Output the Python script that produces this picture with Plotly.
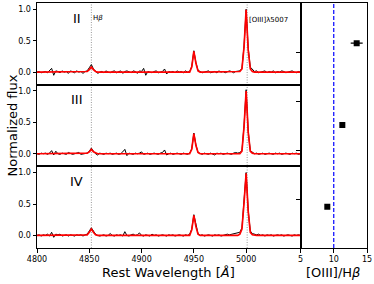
import plotly.graph_objects as go

# ---------------- data ----------------
WAVE = list(range(4800, 5053, 2))  # rest wavelength grid [A]

FLUX_II = [
    0.00, 0.01, -0.01, 0.00, 0.01, -0.01, 0.02, 0.06, -0.05, 0.02,
    0.01, -0.01, 0.02, 0.00, 0.01, -0.02, 0.02, 0.01, -0.01, 0.02,
    0.00, 0.01, -0.02, 0.01, 0.02, 0.07, 0.12, 0.05, 0.01, -0.02,
    0.00, 0.01, -0.01, 0.02, 0.00, -0.01, 0.01, 0.02, -0.01, 0.00,
    0.02, -0.02, 0.01, 0.02, 0.00, -0.01, 0.02, 0.01, -0.02, 0.02,
    0.01, 0.06, -0.05, 0.01, 0.00, -0.01, 0.01, 0.02, -0.01, 0.00,
    0.01, 0.05, -0.03, 0.01, 0.00, 0.01, -0.01, 0.02, 0.00, 0.01,
    -0.01, 0.02, 0.00, 0.01, 0.09, 0.34, 0.15, 0.03, 0.01, -0.01,
    0.00, 0.01, 0.02, -0.01, 0.00, 0.01, -0.01, 0.02, 0.00, 0.01,
    -0.01, 0.00, 0.02, 0.01, -0.01, 0.01, 0.02, 0.02, 0.06, 0.42,
    1.00, 0.38, 0.08, 0.04, 0.01, 0.02, -0.01, 0.00, 0.01, 0.02,
    -0.01, 0.01, 0.00, 0.02, -0.01, 0.01, 0.00, 0.02, 0.01, -0.01,
    0.00, 0.01, 0.02, 0.00, -0.01, 0.01, 0.00,
]
FLUX_III = [
    0.00, -0.01, 0.01, 0.00, 0.01, -0.01, 0.01, 0.05, -0.02, 0.04,
    0.00, -0.01, 0.01, 0.00, -0.01, 0.02, 0.01, -0.01, 0.00, 0.01,
    0.02, -0.01, 0.00, 0.01, 0.01, 0.04, 0.09, 0.04, 0.00, -0.02,
    0.01, 0.00, -0.01, 0.01, 0.00, 0.01, -0.01, 0.00, 0.01, -0.01,
    0.00, 0.03, 0.07, -0.03, 0.01, 0.00, -0.01, 0.01, 0.00, 0.01,
    0.03, -0.01, 0.00, 0.01, -0.01, 0.00, 0.01, 0.00, -0.01, 0.01,
    0.02, 0.06, -0.02, 0.00, 0.01, -0.01, 0.00, 0.01, 0.00, -0.01,
    0.01, 0.00, -0.01, 0.01, 0.08, 0.33, 0.14, 0.02, 0.00, -0.01,
    0.01, 0.00, -0.01, 0.01, 0.00, -0.02, 0.01, 0.00, 0.01, -0.01,
    0.00, 0.01, 0.00, -0.01, 0.01, 0.02, 0.01, 0.02, 0.05, 0.45,
    1.02, 0.36, 0.05, 0.02, 0.00, 0.01, -0.01, 0.00, 0.01, -0.01,
    0.00, 0.01, 0.00, -0.01, 0.01, 0.00, 0.01, -0.01, 0.00, 0.01,
    0.00, -0.01, 0.01, 0.00, 0.01, -0.01, 0.00,
]
FLUX_IV = [
    0.00, 0.01, -0.01, 0.01, 0.00, 0.02, -0.01, 0.05, -0.03, 0.02,
    0.01, 0.02, -0.01, 0.00, 0.01, -0.01, 0.01, 0.00, -0.01, 0.01,
    0.00, 0.01, -0.01, 0.01, 0.02, 0.07, 0.12, 0.07, 0.02, 0.00,
    -0.01, 0.00, 0.01, -0.01, 0.00, 0.03, 0.00, -0.01, 0.01, 0.00,
    0.01, -0.01, 0.06, 0.00, -0.01, 0.01, 0.02, 0.00, 0.01, 0.04,
    0.00, -0.01, 0.01, 0.00, -0.01, 0.02, 0.00, 0.01, -0.01, 0.00,
    0.01, 0.00, -0.01, 0.01, 0.00, 0.01, -0.01, 0.00, 0.01, 0.00,
    -0.01, 0.01, 0.00, 0.02, 0.10, 0.33, 0.15, 0.03, 0.00, 0.01,
    -0.01, 0.00, 0.01, 0.00, -0.01, 0.01, 0.00, 0.01, -0.01, 0.00,
    0.01, 0.02, 0.01, 0.02, 0.03, 0.03, 0.04, 0.05, 0.12, 0.55,
    1.00, 0.40, 0.07, 0.03, 0.02, 0.01, 0.02, 0.00, 0.01, -0.01,
    0.01, 0.00, 0.01, -0.01, 0.00, 0.01, 0.00, 0.01, -0.01, 0.00,
    0.01, 0.00, -0.01, 0.01, 0.00, 0.01, 0.00,
]

# model fits (values read at the grid points near each line; zero elsewhere)
FIT_II_POINTS = {4848: 0.01, 4850: 0.04, 4852: 0.08, 4854: 0.04, 4856: 0.01,
                 4948: 0.08, 4950: 0.33, 4952: 0.14, 4954: 0.02,
                 4994: 0.01, 4996: 0.05, 4998: 0.40, 5000: 0.99, 5002: 0.35, 5004: 0.05, 5006: 0.01}
FIT_III_POINTS = {4848: 0.01, 4850: 0.03, 4852: 0.07, 4854: 0.03, 4856: 0.01,
                  4948: 0.07, 4950: 0.32, 4952: 0.13, 4954: 0.02,
                  4996: 0.04, 4998: 0.43, 5000: 1.00, 5002: 0.34, 5004: 0.04, 5006: 0.01}
FIT_IV_POINTS = {4848: 0.01, 4850: 0.05, 4852: 0.10, 4854: 0.05, 4856: 0.01,
                 4948: 0.09, 4950: 0.32, 4952: 0.14, 4954: 0.02,
                 4994: 0.02, 4996: 0.10, 4998: 0.52, 5000: 0.99, 5002: 0.38, 5004: 0.05, 5006: 0.01}

PANEL_LABELS = ["II", "III", "IV"]
LINE_WAVES = [4852, 5001]

RATIO = [13.45, 11.29, 9.03]
RATIO_ERR = [0.9, 0.0, 0.0]
RATIO_Y = [4.18, 2.51, 0.84]

X_TICKS = [4800, 4850, 4900, 4950, 5000]
Y_TICKS = [0.0, 0.5, 1.0]
R_TICKS = [5, 10, 15]

# ---------------- figure ----------------
W, H = 374, 284
FONT = "DejaVu Sans"

def px_x(p):
    return p / W

def px_y(p):
    return 1 - p / H

left0, left1 = px_x(37), px_x(300.5)
right0, right1 = px_x(300.5), px_x(367)
tops = [3, 84.7, 166.3]
bots = [84.7, 166.3, 248]

fluxes = [FLUX_II, FLUX_III, FLUX_IV]
fits = [FIT_II_POINTS, FIT_III_POINTS, FIT_IV_POINTS]

fig = go.Figure()
layout = dict(width=W, height=H, margin=dict(l=0, r=0, t=0, b=0, pad=0, autoexpand=False),
              template="none",
              paper_bgcolor="white", plot_bgcolor="white", showlegend=False,
              font=dict(family=FONT, size=8, color="black"))

annotations = []
shapes = []
for k in range(3):
    xa = "x" if k == 0 else f"x{k+1}"
    ya = "y" if k == 0 else f"y{k+1}"
    fit = [fits[k].get(w, 0.0) for w in WAVE]
    fig.add_trace(go.Scatter(x=WAVE, y=fluxes[k], mode="lines",
                             line=dict(color="black", width=1), xaxis=xa, yaxis=ya))
    fig.add_trace(go.Scatter(x=WAVE, y=fit, mode="lines",
                             line=dict(color="#ff0000", width=1.7), xaxis=xa, yaxis=ya))
    xkey = "xaxis" if k == 0 else f"xaxis{k+1}"
    ykey = "yaxis" if k == 0 else f"yaxis{k+1}"
    layout[xkey] = dict(domain=[left0, left1], range=[4800, 5052], anchor=ya,
                        automargin=False,
                        showline=True, mirror=True, linecolor="black", linewidth=1,
                        showgrid=False, zeroline=False,
                        ticks="outside" if k == 2 else "", ticklen=3.5, tickwidth=0.8,
                        tickcolor="black",
                        tickvals=X_TICKS, showticklabels=(k == 2),
                        tickfont=dict(size=8, family=FONT, color="black"))
    layout[ykey] = dict(domain=[px_y(bots[k]), px_y(tops[k])], range=[-0.2, 1.1], anchor=xa,
                        automargin=False,
                        showline=True, mirror=True, linecolor="black", linewidth=1,
                        showgrid=False, zeroline=False, ticks="outside", ticklen=3.5,
                        tickcolor="black",
                        tickwidth=0.8, tickvals=Y_TICKS, tickformat=".1f",
                        tickfont=dict(size=8, family=FONT, color="black"))
    annotations.append(dict(x=4838, y=0.86, xref=xa, yref=ya, text=PANEL_LABELS[k],
                            xanchor="center", yanchor="middle",
                            showarrow=False, font=dict(size=13, family=FONT, color="#000000")))

for w in LINE_WAVES:
    shapes.append(dict(type="line", xref="x3", yref="paper", x0=w, x1=w,
                       y0=px_y(248), y1=px_y(3), layer="below",
                       line=dict(color="#999999", width=1, dash="1px,1.5px")))

annotations.append(dict(x=4852, y=0.86, xref="x", yref="y", text="H<i>β</i>",
                        xanchor="left", yanchor="middle", showarrow=False,
                        font=dict(size=7, family=FONT, color="black")))
annotations.append(dict(x=5001, y=0.83, xref="x", yref="y", text="[OIII]λ5007",
                        xanchor="left", yanchor="middle", showarrow=False,
                        font=dict(size=7, family=FONT, color="black")))

# right panel
fig.add_trace(go.Scatter(x=RATIO, y=RATIO_Y, mode="markers",
                         marker=dict(symbol="square", size=6, color="black"),
                         error_x=dict(type="data", array=RATIO_ERR, color="black",
                                      thickness=1.2, width=0),
                         xaxis="x4", yaxis="y4"))
layout["xaxis4"] = dict(domain=[right0, right1], range=[5, 15], anchor="y4",
                        automargin=False,
                        showline=True, mirror=True, linecolor="black", linewidth=1,
                        showgrid=False, zeroline=False, ticks="outside", ticklen=3.5,
                        tickcolor="black",
                        tickwidth=0.8, tickvals=R_TICKS,
                        tickfont=dict(size=8, family=FONT, color="black"))
layout["yaxis4"] = dict(domain=[px_y(248), px_y(3)], range=[0, 5], anchor="x4",
                        automargin=False,
                        showline=True, mirror=True, linecolor="black", linewidth=1,
                        showgrid=False, zeroline=False, ticks="outside", ticklen=3.5,
                        tickcolor="black",
                        tickwidth=0.8, tickvals=[1, 2, 3, 4], showticklabels=False)
shapes.append(dict(type="line", xref="x4", yref="paper", x0=10, x1=10,
                   y0=px_y(248), y1=px_y(3), layer="below",
                   line=dict(color="#0000ff", width=1.2, dash="4px,2px")))

# axis titles
annotations.append(dict(x=px_x(12), y=px_y(125.5), xref="paper", yref="paper",
                        xanchor="center", yanchor="middle",
                        text="Normalized flux", textangle=-90, showarrow=False,
                        font=dict(size=13, family=FONT, color="black")))
annotations.append(dict(x=px_x(168), y=px_y(272), xref="paper", yref="paper",
                        xanchor="center", yanchor="middle",
                        text="Rest Wavelength [<i>Å</i>]", showarrow=False,
                        font=dict(size=13, family=FONT, color="black")))
annotations.append(dict(x=px_x(333), y=px_y(272), xref="paper", yref="paper",
                        xanchor="center", yanchor="middle",
                        text="[OIII]/H<i>β</i>", showarrow=False,
                        font=dict(size=13, family=FONT, color="black")))

layout["annotations"] = annotations
layout["shapes"] = shapes
fig.update_layout(**layout)
fig.write_html("out.html", config={"displayModeBar": False},
               post_script="document.body.style.margin='0';document.body.style.padding='0';")
